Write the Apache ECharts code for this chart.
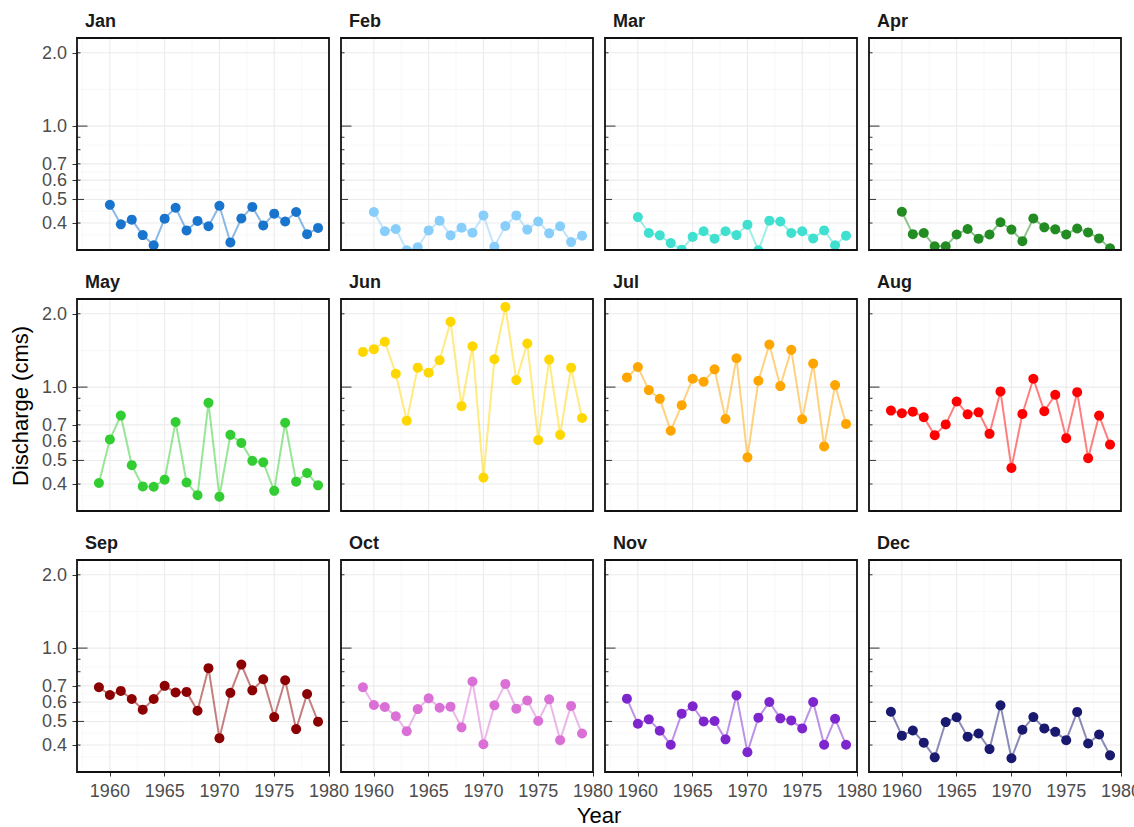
<!DOCTYPE html>
<html>
<head>
<meta charset="utf-8">
<title>Monthly discharge by year</title>
<script src="https://cdn.jsdelivr.net/npm/echarts@6/dist/echarts.min.js"></script>
<style>
  html, body { margin: 0; padding: 0; background: #ffffff; }
  #chart { width: 1134px; height: 827px; }
</style>
</head>
<body>
<div id="chart"></div>
<script>
// ---- data: mean monthly discharge (cms), one array per month ----
const years = [1959, 1960, 1961, 1962, 1963, 1964, 1965, 1966, 1967, 1968, 1969,
               1970, 1971, 1972, 1973, 1974, 1975, 1976, 1977, 1978, 1979];
const months = ['Jan', 'Feb', 'Mar', 'Apr', 'May', 'Jun', 'Jul', 'Aug', 'Sep', 'Oct', 'Nov', 'Dec'];

const jan = [null, 0.475, 0.395, 0.413, 0.357, 0.324, 0.417, 0.462, 0.373, 0.408, 0.388, 0.471, 0.333, 0.418, 0.466, 0.391, 0.437, 0.406, 0.444, 0.360, 0.382];
const feb = [null, 0.444, 0.370, 0.378, 0.309, 0.318, 0.373, 0.409, 0.356, 0.383, 0.365, 0.430, 0.320, 0.389, 0.430, 0.376, 0.406, 0.363, 0.388, 0.334, 0.355];
const mar = [null, 0.423, 0.364, 0.356, 0.331, 0.311, 0.351, 0.370, 0.345, 0.370, 0.357, 0.394, 0.309, 0.409, 0.406, 0.364, 0.370, 0.346, 0.373, 0.324, 0.355];
const apr = [null, 0.445, 0.360, 0.364, 0.321, 0.321, 0.359, 0.378, 0.345, 0.359, 0.403, 0.376, 0.337, 0.418, 0.384, 0.377, 0.359, 0.380, 0.366, 0.346, 0.315];
const may = [0.404, 0.610, 0.764, 0.478, 0.391, 0.390, 0.417, 0.719, 0.406, 0.360, 0.862, 0.355, 0.637, 0.590, 0.498, 0.491, 0.375, 0.714, 0.409, 0.444, 0.395];
const jun = [1.395, 1.431, 1.535, 1.135, 0.728, 1.202, 1.146, 1.289, 1.856, 0.835, 1.472, 0.425, 1.301, 2.134, 1.069, 1.510, 0.606, 1.297, 0.637, 1.202, 0.747];
const jul = [1.096, 1.209, 0.972, 0.895, 0.662, 0.843, 1.082, 1.052, 1.183, 0.740, 1.314, 0.515, 1.062, 1.496, 1.010, 1.422, 0.738, 1.249, 0.571, 1.019, 0.706];
const aug = [0.801, 0.781, 0.793, 0.752, 0.635, 0.703, 0.873, 0.773, 0.788, 0.643, 0.960, 0.466, 0.776, 1.082, 0.796, 0.930, 0.617, 0.953, 0.511, 0.764, 0.581];
const sep = [0.691, 0.642, 0.667, 0.618, 0.559, 0.618, 0.700, 0.657, 0.661, 0.553, 0.827, 0.427, 0.655, 0.856, 0.671, 0.745, 0.521, 0.738, 0.465, 0.648, 0.499];
const oct = [0.691, 0.584, 0.573, 0.525, 0.456, 0.562, 0.622, 0.569, 0.575, 0.473, 0.729, 0.403, 0.582, 0.713, 0.564, 0.610, 0.502, 0.616, 0.419, 0.579, 0.446];
const nov = [0.620, 0.489, 0.510, 0.458, 0.401, 0.538, 0.577, 0.500, 0.502, 0.422, 0.640, 0.374, 0.518, 0.601, 0.515, 0.505, 0.468, 0.601, 0.401, 0.513, 0.401];
const dec = [0.548, 0.437, 0.459, 0.409, 0.356, 0.497, 0.520, 0.433, 0.446, 0.385, 0.582, 0.353, 0.462, 0.521, 0.468, 0.453, 0.419, 0.547, 0.406, 0.442, 0.363];

const monthValues = [jan, feb, mar, apr, may, jun, jul, aug, sep, oct, nov, dec];

// axis breaks and limits
const xBreaks = [1960, 1965, 1970, 1975, 1980];
const yBreaks = [0.4, 0.5, 0.6, 0.7, 1.0, 2.0];
const xLimits = [1957, 1980];
const yLimits = [0.31, 2.3];

// ---- styling ----
const monthColors = ['#1874CD', '#87CEFA', '#40E0D0', '#228B22', '#32CD32', '#FFD700',
                     '#FFA500', '#FF0000', '#8B0000', '#DA70D6', '#7D26CD', '#191970'];
const FONT = '"Liberation Sans", Arial, Helvetica, sans-serif';
const PANEL = { left: 77, top: 38, width: 252, height: 212, stepX: 264, stepY: 261 };

// minor breaks halfway between major breaks (in log space for y)
function minorX() {
  const out = [];
  const step = xBreaks[1] - xBreaks[0];
  for (let v = xBreaks[0] - step / 2; v < xLimits[1]; v += step) {
    if (v > xLimits[0]) out.push(v);
  }
  return out;
}
function minorY() {
  const out = [];
  for (let i = 0; i < yBreaks.length - 1; i++) out.push(Math.sqrt(yBreaks[i] * yBreaks[i + 1]));
  const below = yBreaks[0] / Math.sqrt(yBreaks[1] / yBreaks[0]);
  if (below > yLimits[0]) out.push(below);
  const above = yBreaks[yBreaks.length - 1] * Math.sqrt(yBreaks[yBreaks.length - 1] / yBreaks[yBreaks.length - 2]);
  if (above < yLimits[1]) out.push(above);
  return out;
}
const xMinor = minorX();
const yMinor = minorY();

// log10 tick marks along the left edge: long at 1, mid at 5, short elsewhere
function logTicks() {
  const out = [];
  for (let d = -2; d <= 1; d++) {
    for (let k = 1; k <= 9; k++) {
      const v = k * Math.pow(10, d);
      if (v >= yLimits[0] && v <= yLimits[1]) out.push({ v: v, len: k === 1 ? 10.5 : (k === 5 ? 7 : 3.5) });
    }
  }
  return out;
}
const yLogTicks = logTicks();

const chart = echarts.init(document.getElementById('chart'), null, { renderer: 'svg' });

const grids = [], xAxes = [], yAxes = [], series = [], graphics = [];

months.forEach(function (name, i) {
  const row = Math.floor(i / 4), col = i % 4;
  const left = PANEL.left + col * PANEL.stepX;
  const top = PANEL.top + row * PANEL.stepY;
  const color = monthColors[i];
  const pts = years.map(function (y, k) { return [y, monthValues[i][k]]; })
                   .filter(function (p) { return p[1] != null; });

  grids.push({ left: left, top: top, width: PANEL.width, height: PANEL.height,
               containLabel: false, outerBoundsMode: 'none', show: false });

  xAxes.push({
    gridIndex: i, type: 'value', min: xLimits[0], max: xLimits[1],
    axisLine: { show: false, onZero: false },
    splitLine: { show: false },
    axisTick: { show: row === 2, customValues: xBreaks, length: 4.5,
                lineStyle: { color: '#333333', width: 1 } },
    axisLabel: { show: row === 2, customValues: xBreaks, margin: 10,
                 color: '#4d4d4d', fontSize: 18, fontFamily: FONT,
                 formatter: function (v) { return String(Math.round(v)); } }
  });

  yAxes.push({
    gridIndex: i, type: 'log', logBase: 10, min: yLimits[0], max: yLimits[1],
    axisLine: { show: false },
    splitLine: { show: false },
    minorSplitLine: { show: false },
    axisTick: { show: col === 0, customValues: yBreaks, length: 4.5,
                lineStyle: { color: '#333333', width: 1 } },
    axisLabel: { show: col === 0, customValues: yBreaks, margin: 10,
                 color: '#4d4d4d', fontSize: 18, lineHeight: 14, fontFamily: FONT,
                 formatter: function (v) { return Number(v).toFixed(1); } }
  });

  // background grid lines
  series.push({
    type: 'custom', xAxisIndex: i, yAxisIndex: i, z: 1, silent: true,
    data: [[1970, 1]],
    renderItem: function (params, api) {
      const cs = params.coordSys;
      const kids = [];
      function hLine(v, stroke, w) {
        const y = api.coord([xLimits[0], v])[1];
        kids.push({ type: 'line', shape: { x1: cs.x, y1: y, x2: cs.x + cs.width, y2: y },
                    style: { stroke: stroke, lineWidth: w } });
      }
      function vLine(v, stroke, w) {
        const x = api.coord([v, 1])[0];
        kids.push({ type: 'line', shape: { x1: x, y1: cs.y, x2: x, y2: cs.y + cs.height },
                    style: { stroke: stroke, lineWidth: w } });
      }
      yMinor.forEach(function (v) { hLine(v, '#f3f3f3', 0.6); });
      xMinor.forEach(function (v) { vLine(v, '#f3f3f3', 0.6); });
      yBreaks.forEach(function (v) { hLine(v, '#ebebeb', 1.1); });
      xBreaks.forEach(function (v) { vLine(v, '#ebebeb', 1.1); });
      return { type: 'group', children: kids };
    }
  });

  // connecting line
  series.push({
    type: 'line', xAxisIndex: i, yAxisIndex: i, z: 2, silent: true,
    data: pts, showSymbol: false, symbol: 'none', clip: true,
    lineStyle: { color: color, width: 2, opacity: 0.5 }
  });

  // points, clipped at the panel edge
  series.push({
    type: 'custom', xAxisIndex: i, yAxisIndex: i, z: 3, silent: true, clip: true,
    data: pts,
    renderItem: function (params, api) {
      const p = api.coord([api.value(0), api.value(1)]);
      return { type: 'circle', shape: { cx: p[0], cy: p[1], r: 5 }, style: { fill: color } };
    }
  });

  // log ticks and panel border on top
  series.push({
    type: 'custom', xAxisIndex: i, yAxisIndex: i, z: 4, silent: true,
    data: [[1970, 1]],
    renderItem: function (params, api) {
      const cs = params.coordSys;
      const kids = yLogTicks.map(function (t) {
        const y = api.coord([xLimits[0], t.v])[1];
        return { type: 'line', shape: { x1: cs.x, y1: y, x2: cs.x + t.len, y2: y },
                 style: { stroke: '#333333', lineWidth: 1 } };
      });
      kids.push({ type: 'rect', shape: { x: cs.x, y: cs.y, width: cs.width, height: cs.height },
                  style: { fill: 'none', stroke: '#111111', lineWidth: 1.8 } });
      return { type: 'group', children: kids };
    }
  });

  // facet strip label
  graphics.push({
    type: 'text', x: left + 8, y: top - 17.5, silent: true,
    style: { text: name, fill: '#1a1a1a', font: 'bold 18px ' + FONT,
             align: 'left', verticalAlign: 'middle', textAlign: 'left', textVerticalAlign: 'middle' }
  });
});

// axis titles
graphics.push({
  type: 'text', x: 20, y: 406, rotation: Math.PI / 2, silent: true,
  style: { text: 'Discharge (cms)', fill: '#000000', font: '22px ' + FONT,
           align: 'center', verticalAlign: 'middle', textAlign: 'center', textVerticalAlign: 'middle' }
});
graphics.push({
  type: 'text', x: 599, y: 815, silent: true,
  style: { text: 'Year', fill: '#000000', font: '22px ' + FONT,
           align: 'center', verticalAlign: 'middle', textAlign: 'center', textVerticalAlign: 'middle' }
});

chart.setOption({
  animation: false,
  backgroundColor: '#ffffff',
  grid: grids,
  xAxis: xAxes,
  yAxis: yAxes,
  series: series,
  graphic: graphics
});
</script>
</body>
</html>
